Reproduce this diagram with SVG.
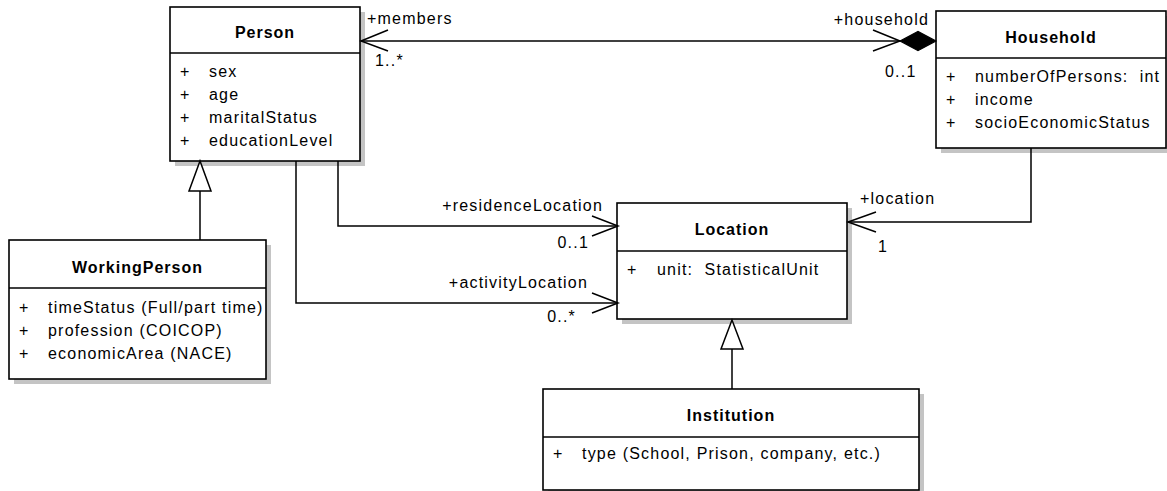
<svg xmlns="http://www.w3.org/2000/svg" width="1167" height="491" viewBox="0 0 1167 491">
<style>
.bg{fill:#ffffff}
.sh{fill:#c4c4c4;stroke:none}
.box{fill:#ffffff;stroke:#000000;stroke-width:1.6}
.div{stroke:#000000;stroke-width:1.6}
.title{font-family:"Liberation Sans",Arial,sans-serif;font-size:16px;font-weight:bold;letter-spacing:1px;text-anchor:middle;fill:#000}
.attr{font-family:"Liberation Sans",Arial,sans-serif;font-size:16px;letter-spacing:1.2px;fill:#000;white-space:pre}
.lbl{font-family:"Liberation Sans",Arial,sans-serif;font-size:16px;letter-spacing:1.2px;fill:#000}
.end{text-anchor:end}
.con{fill:none;stroke:#000000;stroke-width:1.5}
.tri{fill:#ffffff;stroke:#000000;stroke-width:1.5}
.dia{fill:#000000;stroke:#000000;stroke-width:1.2}
</style>
<rect class="bg" x="0" y="0" width="1167" height="491"/>

<g id="Person">
<rect class="sh" x="175" y="12" width="190" height="154"/>
<rect class="box" x="170" y="7" width="190" height="154"/>
<line class="div" x1="170" y1="53" x2="360" y2="53"/>
<text class="title" x="265" y="38">Person</text>
<text class="attr" x="180" y="77">+</text><text class="attr" x="209" y="77">sex</text>
<text class="attr" x="180" y="100">+</text><text class="attr" x="209" y="100">age</text>
<text class="attr" x="180" y="123">+</text><text class="attr" x="209" y="123">maritalStatus</text>
<text class="attr" x="180" y="146">+</text><text class="attr" x="209" y="146">educationLevel</text>
</g>

<g id="Household">
<rect class="sh" x="941" y="16" width="230" height="137"/>
<rect class="box" x="936" y="11" width="230" height="137"/>
<line class="div" x1="936" y1="58" x2="1166" y2="58"/>
<text class="title" x="1051" y="43">Household</text>
<text class="attr" x="946" y="82">+</text><text class="attr" x="975" y="82" xml:space="preserve">numberOfPersons:  int</text>
<text class="attr" x="946" y="105">+</text><text class="attr" x="975" y="105">income</text>
<text class="attr" x="946" y="128">+</text><text class="attr" x="975" y="128">socioEconomicStatus</text>
</g>

<g id="WorkingPerson">
<rect class="sh" x="14" y="245" width="257" height="139"/>
<rect class="box" x="9" y="240" width="257" height="139"/>
<line class="div" x1="9" y1="288" x2="266" y2="288"/>
<text class="title" x="137.5" y="273">WorkingPerson</text>
<text class="attr" x="19" y="313">+</text><text class="attr" x="48" y="313">timeStatus (Full/part time)</text>
<text class="attr" x="19" y="336">+</text><text class="attr" x="48" y="336">profession (COICOP)</text>
<text class="attr" x="19" y="359">+</text><text class="attr" x="48" y="359">economicArea (NACE)</text>
</g>

<g id="Location">
<rect class="sh" x="622" y="208" width="230" height="116"/>
<rect class="box" x="617" y="203" width="230" height="116"/>
<line class="div" x1="617" y1="251" x2="847" y2="251"/>
<text class="title" x="732" y="235">Location</text>
<text class="attr" x="627" y="275">+</text><text class="attr" x="657" y="275" xml:space="preserve">unit:  StatisticalUnit</text>
</g>

<g id="Institution">
<rect class="sh" x="548" y="394" width="376" height="101"/>
<rect class="box" x="543" y="389" width="376" height="101"/>
<line class="div" x1="543" y1="437" x2="919" y2="437"/>
<text class="title" x="731" y="421">Institution</text>
<text class="attr" x="553" y="459">+</text><text class="attr" x="582" y="459">type (School, Prison, company, etc.)</text>
</g>

<g id="connectors">
<line class="con" x1="361" y1="41" x2="900" y2="41"/>
<polyline class="con" points="388,30 361,41 388,51"/>
<polyline class="con" points="873,30 900,41 873,51"/>
<polygon class="dia" points="900,41 918,31.5 936,41 918,50.5"/>
<text class="lbl" x="367" y="24">+members</text>
<text class="lbl" x="375" y="66">1..*</text>
<text class="lbl end" x="929" y="25">+household</text>
<text class="lbl" x="885" y="77">0..1</text>

<polyline class="con" points="338,161 338,226 618,226"/>
<polyline class="con" points="592,216 618,226 592,236"/>
<text class="lbl end" x="603" y="211">+residenceLocation</text>
<text class="lbl end" x="589" y="248">0..1</text>

<polyline class="con" points="296,161 296,303 618,303"/>
<polyline class="con" points="592,293 618,303 592,313"/>
<text class="lbl end" x="588" y="288">+activityLocation</text>
<text class="lbl end" x="576" y="322">0..*</text>

<polyline class="con" points="1031,148 1031,222 848,222"/>
<polyline class="con" points="876,212 848,222 876,232"/>
<text class="lbl" x="860" y="204">+location</text>
<text class="lbl" x="878" y="252">1</text>

<line class="con" x1="200" y1="240" x2="200" y2="191"/>
<polygon class="tri" points="200,161 189,191 211,191"/>
<line class="con" x1="732" y1="389" x2="732" y2="349"/>
<polygon class="tri" points="732,320 721,349 743,349"/>
</g>
</svg>
